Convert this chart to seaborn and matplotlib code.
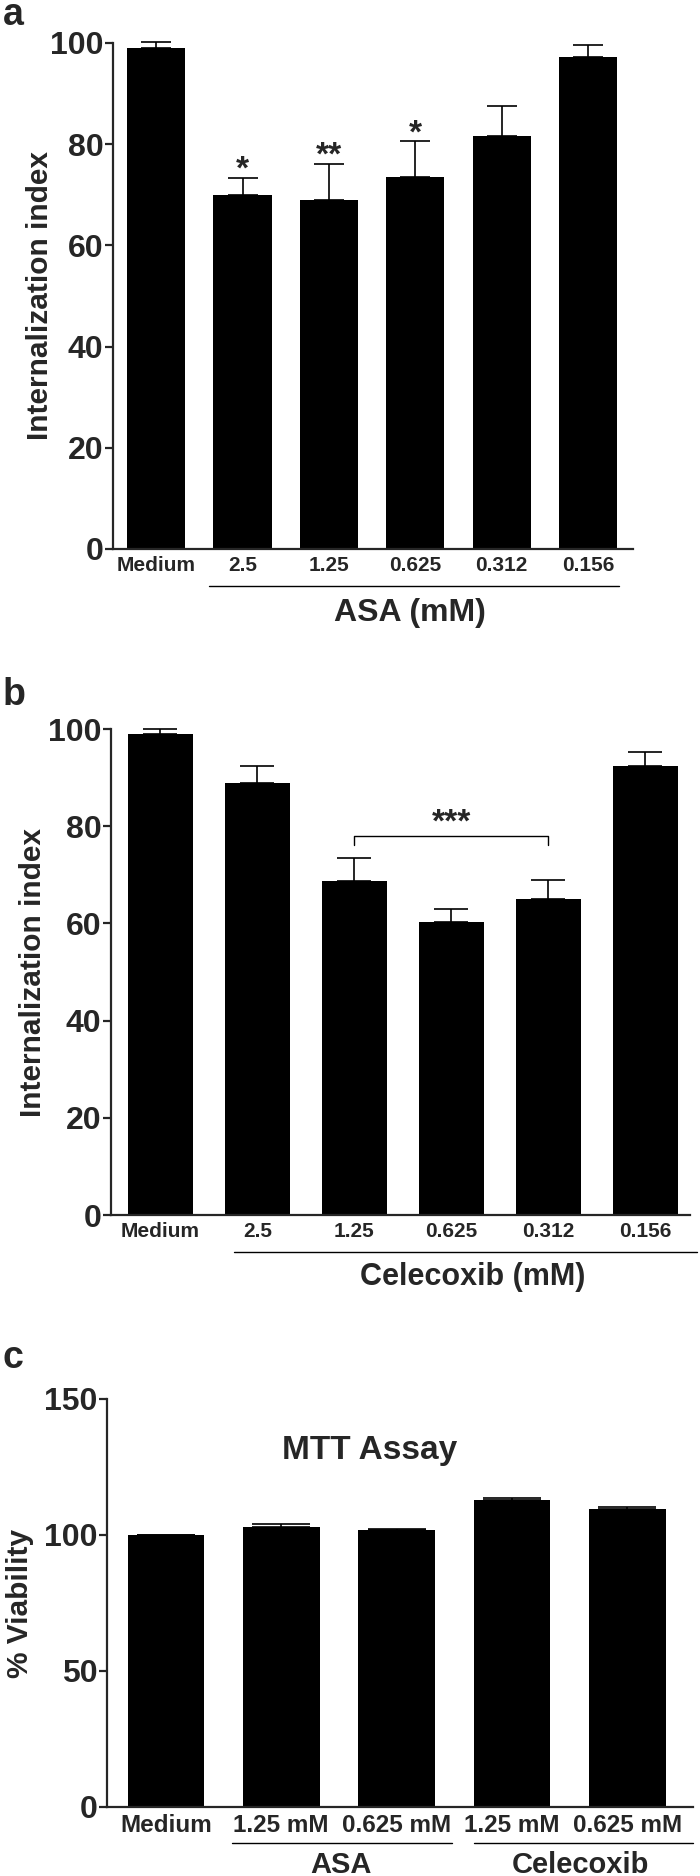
import numpy as np
import pandas as pd
import matplotlib
matplotlib.use("Agg")
import matplotlib.pyplot as plt
import seaborn as sns

# painel a - ASA
asa_labels = ["Medium", "2.5", "1.25", "0.625", "0.312", "0.156"]
asa_values = [99.0, 70.0, 69.0, 73.5, 81.7, 97.3]
asa_err = [1.1, 3.4, 7.1, 7.1, 5.9, 2.3]
asa_stars = ["", "*", "**", "*", "", ""]

# painel b - Celecoxib
cel_labels = ["Medium", "2.5", "1.25", "0.625", "0.312", "0.156"]
cel_values = [99.0, 88.9, 68.8, 60.2, 65.0, 92.3]
cel_err = [1.1, 3.5, 4.7, 2.8, 3.9, 2.9]

# painel c - MTT
mtt_labels = ["Medium", "1.25 mM", "0.625 mM", "1.25 mM", "0.625 mM"]
mtt_values = [100.0, 103.1, 101.8, 112.9, 109.7]
mtt_err = [0.0, 0.8, 0.3, 0.6, 0.5]

sns.set_style("ticks")
plt.rcParams["font.family"] = ["Liberation Sans", "DejaVu Sans"]
plt.rcParams["font.weight"] = "bold"
plt.rcParams["axes.labelweight"] = "bold"


def barras(ax, labels, values, err, largura, cap):
    chaves = [f"{i}_{l}" for i, l in enumerate(labels)]
    df = pd.DataFrame({"chave": chaves, "valor": values})
    sns.barplot(data=df, x="chave", y="valor", color="black", saturation=1,
                width=largura, errorbar=None, linewidth=0, ax=ax)
    xs = [p.get_x() + p.get_width() / 2 for p in ax.patches]
    ax.errorbar(xs, values, yerr=[np.zeros(len(err)), err], fmt="none",
                ecolor="black", elinewidth=1.2, capsize=cap, capthick=1.2,
                clip_on=False)
    ax.set_xticks(xs)
    ax.set_xticklabels(labels)
    for s in ["top", "right"]:
        ax.spines[s].set_visible(False)
    for s in ["left", "bottom"]:
        ax.spines[s].set_linewidth(1.6)
    ax.tick_params(axis="y", direction="out", length=6, width=1.6, labelsize=23, pad=1)
    ax.tick_params(axis="x", length=0, labelsize=15, pad=5)
    ax.set_xlabel("")
    return xs


def linha_grupo(ax, x0, x1, y):
    ax.plot([x0, x1], [y, y], color="black", lw=1.0, clip_on=False,
            transform=ax.get_xaxis_transform())


fig = plt.figure(figsize=(7, 18.76), dpi=100)

# a
ax1 = fig.add_axes([0.1614, 0.7074, 0.7429, 0.2697])
xs = barras(ax1, asa_labels, asa_values, asa_err, 0.675, 10.5)
ax1.set_xlim(-0.5, 5.52)
ax1.set_ylim(0, 100)
ax1.set_yticks([0, 20, 40, 60, 80, 100])
ax1.set_ylabel("Internalization index", fontsize=21.5)
ax1.yaxis.set_label_coords(-0.113, 0.5)
for x, v, e, s in zip(xs, asa_values, asa_err, asa_stars):
    if s:
        ax1.text(x, v + e - 1.6, s, ha="center", va="bottom", fontsize=24)
linha_grupo(ax1, 0.61, 5.36, -0.073)
ax1.text(2.94, -0.126, "ASA (mM)", transform=ax1.get_xaxis_transform(),
         ha="center", va="center", fontsize=23)

# b
ax2 = fig.add_axes([0.1586, 0.3523, 0.8271, 0.2591])
xs = barras(ax2, cel_labels, cel_values, cel_err, 0.67, 12)
ax2.set_xlim(-0.51, 5.46)
ax2.set_ylim(0, 100)
ax2.set_yticks([0, 20, 40, 60, 80, 100])
ax2.set_ylabel("Internalization index", fontsize=21.5)
ax2.yaxis.set_label_coords(-0.11, 0.5)
ax2.plot([xs[2], xs[2], xs[4], xs[4]], [76.2, 78.0, 78.0, 76.2], color="black", lw=1.0)
ax2.text((xs[2] + xs[4]) / 2, 77.4, "***", ha="center", va="bottom", fontsize=24)
linha_grupo(ax2, 0.76, 5.53, -0.076)
ax2.text(3.22, -0.128, "Celecoxib (mM)", transform=ax2.get_xaxis_transform(),
         ha="center", va="center", fontsize=22)

# c
ax3 = fig.add_axes([0.1529, 0.0368, 0.8371, 0.2175])
xs = barras(ax3, mtt_labels, mtt_values, mtt_err, 0.665, 21)
ax3.set_xlim(-0.51, 4.57)
ax3.set_ylim(0, 150)
ax3.set_yticks([0, 50, 100, 150])
ax3.tick_params(axis="x", labelsize=17.5)
ax3.set_ylabel("% Viability", fontsize=21.5)
ax3.yaxis.set_label_coords(-0.125, 0.5)
ax3.text(1.77, 131, "MTT Assay", ha="center", va="center", fontsize=24)
linha_grupo(ax3, 0.57, 2.48, -0.088)
linha_grupo(ax3, 2.67, 4.57, -0.088)
ax3.text(1.52, -0.142, "ASA", transform=ax3.get_xaxis_transform(),
         ha="center", va="center", fontsize=21)
ax3.text(3.59, -0.142, "Celecoxib", transform=ax3.get_xaxis_transform(),
         ha="center", va="center", fontsize=21)

# letras dos paineis
for letra, ypx in [("a", 25), ("b", 705), ("c", 1368)]:
    fig.text(0.004, 1 - ypx / 1876, letra, ha="left", va="baseline", fontsize=27)

fig.savefig("out.png", dpi=100)
